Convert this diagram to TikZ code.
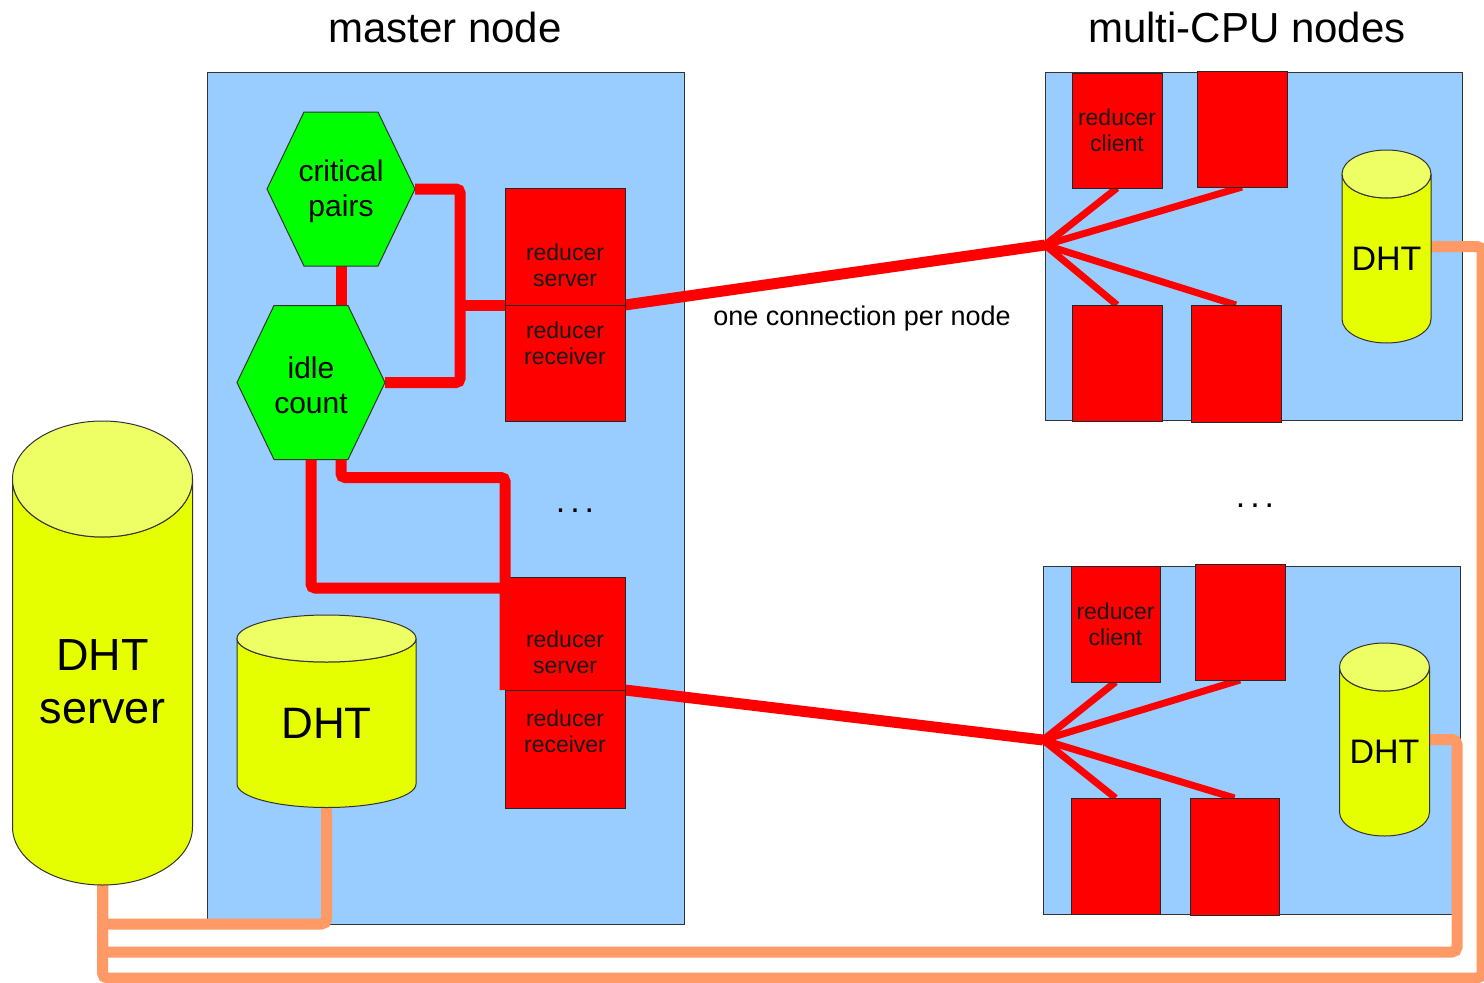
\documentclass[tikz,border=0pt]{standalone}
\usepackage{fontspec}
\setmainfont{Liberation Sans}
\usetikzlibrary{calc}
\pgfdeclarelayer{bglayer}
\pgfdeclarelayer{linelayer}
\pgfsetlayers{bglayer,linelayer,main}

\definecolor{nodeblue}{HTML}{99CCFF}
\definecolor{procred}{HTML}{FF0000}
\definecolor{hexgreen}{HTML}{00FF00}
\definecolor{dhtyellow}{HTML}{E6FF00}
\definecolor{dhtlight}{HTML}{EEFF66}
\definecolor{dhtorange}{HTML}{FF9966}
\definecolor{edgegray}{HTML}{333333}

\newcommand\fsz[2]{\fontsize{#1}{#2}\selectfont}

% rectangle node given by its corners: style, name, x1, y1, x2, y2
\newcommand\blockat[6]{%
  \node[#1,minimum width={(#5-#3)*1pt},minimum height={(#6-#4)*1pt}]
    (#2) at ({(#3+#5)/2},{(#4+#6)/2}) {};}

% hexagon: name, cx, cy, text
\newcommand\hexnode[4]{%
  \node[anchorbox,minimum width=148pt,minimum height=154pt] (#1) at (#2,#3) {};
  \filldraw[hexfill] (#1.west)
    -- ($(#1.north west)!0.25!(#1.north east)$)
    -- ($(#1.north west)!0.75!(#1.north east)$)
    -- (#1.east)
    -- ($(#1.south west)!0.75!(#1.south east)$)
    -- ($(#1.south west)!0.25!(#1.south east)$) -- cycle;
  \node[hextext] at ($(#1)+(0,2.5)$) {#4};}

% database cylinder: name, cx, top, bottom, half width, cap radius, font, text
\newcommand\dbcyl[8]{%
  \node[anchorbox,minimum width={2*#5*1pt},minimum height={(#4-#3)*1pt}]
    (#1) at (#2,{(#3+#4)/2}) {};
  \filldraw[draw=black!80,line width=1pt,fill=dhtyellow]
    (#2-#5,#3+#6) -- (#2-#5,#4-#6)
    arc[start angle=180,end angle=360,x radius=#5pt,y radius=#6pt]
    -- (#2+#5,#3+#6)
    arc[start angle=0,end angle=-180,x radius=#5pt,y radius=#6pt] -- cycle;
  \filldraw[draw=black!80,line width=1pt,fill=dhtlight]
    (#2,#3+#6) ellipse[x radius=#5pt,y radius=#6pt];
  \node[align=center,font=#7] at (#2,{(#3+#6+#4)/2}) {#8};}

\newcommand\spaceddots{.\hspace{5pt}.\hspace{5pt}.}

\begin{document}
\begin{tikzpicture}[x=1pt,y=-1pt,
  anchorbox/.style={inner sep=0pt,outer sep=0pt},
  hostbox/.style={draw=edgegray,line width=1pt,fill=nodeblue,inner sep=0pt,outer sep=0pt},
  redbox/.style={draw=black!85,line width=1pt,fill=procred,inner sep=0pt,outer sep=0pt},
  redtext/.style={align=center,font=\fsz{23}{26},text=black!90},
  hexfill/.style={draw=black!80,line width=1pt,fill=hexgreen},
  hextext/.style={align=center,font=\fsz{30}{35}},
  wire/.style={draw=procred,line width=11pt,rounded corners=4pt},
  fanwire/.style={draw=procred,line width=7pt},
  dhtwire/.style={draw=dhtorange,line width=11pt,rounded corners=5pt},
  headline/.style={font=\fsz{42}{50}},
  plain/.style={font=\fsz{27}{30}},
  ellipsis/.style={font=\fsz{34}{40}}
]
\useasboundingbox (0,0) rectangle (1484,983);

% host frames
\begin{pgfonlayer}{bglayer}
  \blockat{hostbox}{master}{207}{72}{684}{924}
  \blockat{hostbox}{cpuA}{1045}{72}{1462}{420}
  \blockat{hostbox}{cpuB}{1043}{566}{1460}{914}
\end{pgfonlayer}

% headings and notes
\node[headline] (tmaster) at (445,27) {master node};
\node[headline] (tcpu) at (1247,27) {multi-CPU nodes};
\node[plain] (note) at (862,319) {one connection per node};
\node[ellipsis] (dotsL) at (575,511) {\spaceddots};
\node[ellipsis] (dotsR) at (1255,506) {\spaceddots};

% reducer server / receiver pairs on the master
\blockat{redbox}{rs1}{505}{188}{625}{305}
\blockat{redbox}{rr1}{505}{305}{625}{421}
\blockat{redbox}{rs2}{505}{577}{625}{690}
\blockat{redbox}{rr2}{505}{690}{625}{808}
\node[redtext] (rs1t) at (565,265.5) {reducer\\server};
\node[redtext] (rr1t) at (565,343) {reducer\\receiver};
\node[redtext] (rs2t) at (565,652) {reducer\\server};
\node[redtext] (rr2t) at (565,731) {reducer\\receiver};

% worker processes on the CPU nodes
\blockat{redbox}{c11}{1072}{73}{1162}{188}
\blockat{redbox}{c12}{1197}{71}{1287}{187}
\blockat{redbox}{c13}{1072}{305}{1162}{421}
\blockat{redbox}{c14}{1191}{305}{1281}{422}
\node[redtext] (c11t) at (1117,130) {reducer\\client};
\blockat{redbox}{c21}{1071}{566}{1160}{682}
\blockat{redbox}{c22}{1195}{564}{1285}{680}
\blockat{redbox}{c23}{1071}{798}{1160}{914}
\blockat{redbox}{c24}{1190}{798}{1279}{915}
\node[redtext] (c21t) at (1115.5,624) {reducer\\client};

% master state
\hexnode{cp}{341}{189}{critical\\pairs}
\hexnode{ic}{311}{382.5}{idle\\count}

% hash tables
\dbcyl{dhts}{102.5}{421}{885}{90}{58}{\fsz{45}{53}}{DHT\\server}
\dbcyl{dhtm}{326.5}{615}{807.5}{89.5}{23.5}{\fsz{44}{50}}{DHT}
\dbcyl{dht1}{1386.5}{150}{343}{44.5}{24}{\fsz{34}{40}}{DHT}
\dbcyl{dht2}{1384.5}{643}{836}{45}{24}{\fsz{34}{40}}{DHT}

\coordinate (j1) at (460,305);
\coordinate (fan1) at (1045,245);
\coordinate (fan2) at (1043,740);
\coordinate (o2) at (1457,952);
\coordinate (o3) at (1482,978);

\begin{pgfonlayer}{linelayer}
  % DHT links
  \draw[dhtwire] (dhtm.south) |- ($(dhts.south)+(0,39)$) -- (dhts.south);
  \draw[dhtwire] (dht2.east) -| (o2) -- (o2 -| dhts.south) -- (dhts.south);
  \draw[dhtwire] (dht1.east) -| (o3) -- (o3 -| dhts.south) -- (dhts.south);
  % master internals
  \draw[wire] (cp.south) -- (cp.south |- ic.north);
  \draw[wire] (cp.east) -- ++(45,0) |- (ic.east);
  \draw[wire] (j1) -- (rs1.south west);
  % one link per CPU node
  \draw[wire] (rs1.south east) -- (fan1);
  \draw[wire] (rs2.south east) -- (fan2);
  \draw[fanwire] (fan1) -- (c11.south);
  \draw[fanwire] (fan1) -- (c12.south);
  \draw[fanwire] (fan1) -- (c13.north);
  \draw[fanwire] (fan1) -- (c14.north);
  \draw[fanwire] (fan2) -- (c21.south);
  \draw[fanwire] (fan2) -- (c22.south);
  \draw[fanwire] (fan2) -- (c23.north);
  \draw[fanwire] (fan2) -- (c24.north);
\end{pgfonlayer}

% idle count to the second server
\draw[wire] (ic.south) |- ($(rs2.north west)+(0,11)$);
\draw[wire] ($(ic.south)+(30,0)$) -- ++(0,18) -| (rs2.south west);
\end{tikzpicture}
\end{document}
